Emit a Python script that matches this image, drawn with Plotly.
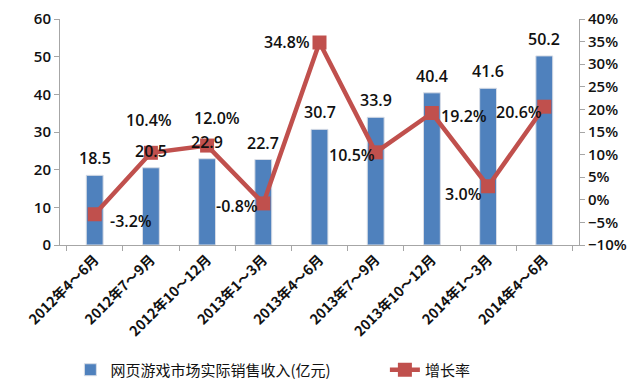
import plotly.graph_objects as go

categories = ["2012年4～6月", "2012年7～9月", "2012年10～12月", "2013年1～3月", "2013年4～6月",
              "2013年7～9月", "2013年10～12月", "2014年1～3月", "2014年4～6月"]
revenue = [18.5, 20.5, 22.9, 22.7, 30.7, 33.9, 40.4, 41.6, 50.2]
growth = [-3.2, 10.4, 12.0, -0.8, 34.8, 10.5, 19.2, 3.0, 20.6]
bar_name = "网页游戏市场实际销售收入(亿元)"
line_name = "增长率"

# label offsets (px) for growth labels
g_dx = [36, -2, 10, -26, -33, -24, 32, -25, -25]
g_dy = [-7, 33, 28, -3, 1, -3, -3, -8, -5]

FONT = "Open Sans, Noto Sans CJK SC, sans-serif"
CJK = "Noto Sans CJK SC, sans-serif"
BLUE = "#4F81BD"
RED = "#C0504D"
TXT = "#111111"

fig = go.Figure()
fig.add_trace(go.Bar(x=categories, y=revenue, name=bar_name, width=0.3,
                     marker=dict(color=BLUE, line=dict(color="#d8dde6", width=1)),
                     yaxis="y", legend="legend"))
fig.add_trace(go.Scatter(x=categories, y=growth, name=line_name, mode="lines+markers",
                         line=dict(color=RED, width=4.5),
                         marker=dict(symbol="square", size=14, color=RED),
                         yaxis="y2", legend="legend2"))

ann = []
for c, v in zip(categories, revenue):
    ann.append(dict(x=c, y=v, xref="x", yref="y", text=f"{v:.1f}", showarrow=False,
                    yshift=17, font=dict(size=16, color=TXT, family=FONT, weight=600)))
for c, v, dx, dy in zip(categories, growth, g_dx, g_dy):
    ann.append(dict(x=c, y=v, xref="x", yref="y2", text=f"{v:.1f}%", showarrow=False,
                    xshift=dx, yshift=dy, font=dict(size=16, color=TXT, family=FONT, weight=600)))

legfont = dict(size=15, color=TXT, family=CJK)
fig.update_layout(
    width=632, height=379,
    margin=dict(l=52, r=61, t=11, b=142, autoexpand=False),
    paper_bgcolor="white", plot_bgcolor="white",
    showlegend=True,
    legend=dict(x=0.02, y=-0.553, xanchor="left", yanchor="middle",
                font=legfont, itemwidth=30, bgcolor="rgba(0,0,0,0)"),
    legend2=dict(x=0.626, y=-0.553, xanchor="left", yanchor="middle",
                 font=legfont, itemwidth=30, bgcolor="rgba(0,0,0,0)"),
    annotations=ann,
    xaxis=dict(showline=True, linecolor="#a6a6a6", linewidth=1, ticks="outside",
               tickson="boundaries", ticklen=5, tickcolor="#a6a6a6", tickangle=-45,
               automargin=False,
               tickfont=dict(size=14, color=TXT, family=CJK, weight="bold"), showgrid=False),
    yaxis=dict(range=[0, 60], dtick=10, showline=True, linecolor="#a6a6a6", ticks="outside",
               ticklen=5, tickcolor="#a6a6a6", showgrid=False, zeroline=False, automargin=False,
               tickfont=dict(size=15, color=TXT, family=FONT, weight=600)),
    yaxis2=dict(range=[-10, 40], dtick=5, overlaying="y", side="right", showline=True,
                linecolor="#a6a6a6", ticks="outside", ticklen=5, tickcolor="#a6a6a6",
                ticksuffix="%", showgrid=False, zeroline=False, automargin=False,
                tickfont=dict(size=15, color=TXT, family=FONT, weight=600)),
)

fig.write_html("out.html")
